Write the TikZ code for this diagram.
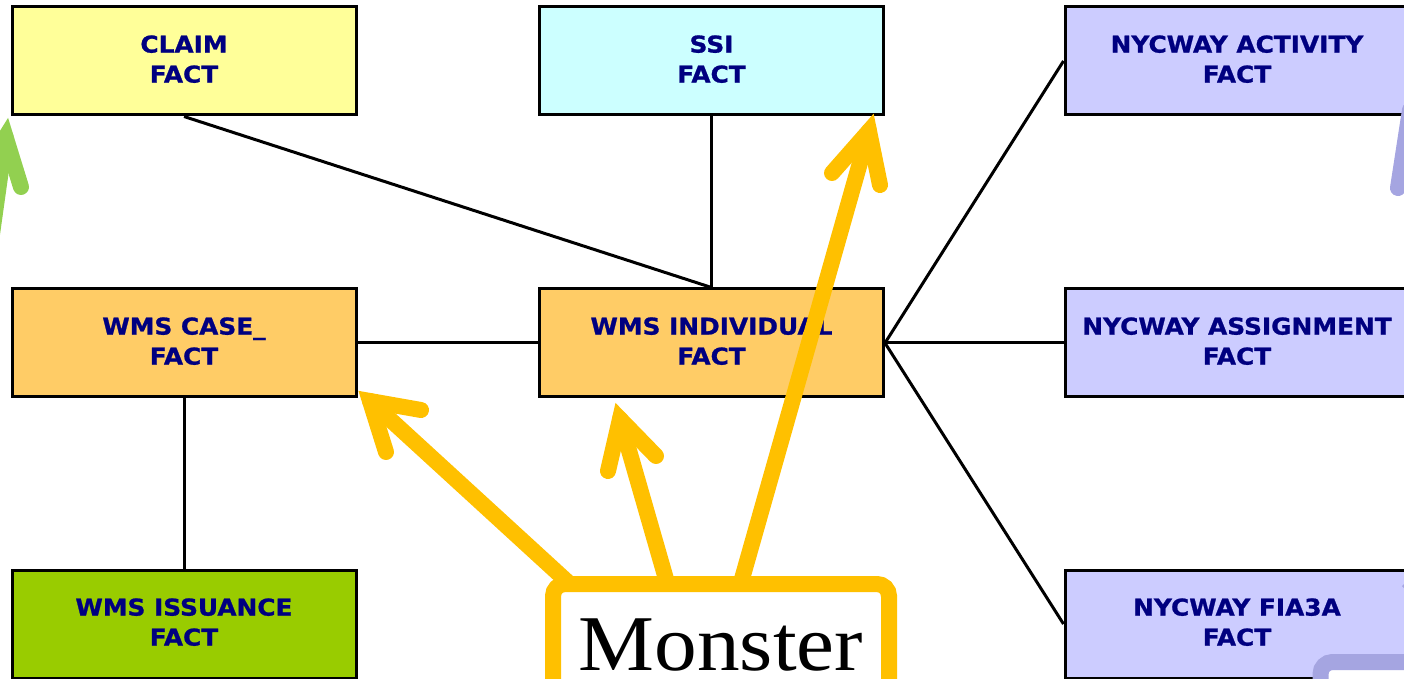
\documentclass[tikz,border=0pt]{standalone}
\usepackage{fontspec}
\newfontfamily\boxfont{DejaVu Sans}[BoldFeatures={FakeStretch=1.07,FakeBold=1}]
\newfontfamily\bigserif{Liberation Serif}
\definecolor{navytxt}{RGB}{0,0,128}
\definecolor{claimfill}{RGB}{255,255,153}
\definecolor{ssifill}{RGB}{204,255,255}
\definecolor{nycfill}{RGB}{204,204,255}
\definecolor{wmsfill}{RGB}{255,204,102}
\definecolor{issfill}{RGB}{153,204,0}
\definecolor{callout}{RGB}{255,192,0}
\definecolor{greenptr}{RGB}{146,208,80}
\definecolor{lilacptr}{RGB}{165,165,225}

\begin{document}
\begin{tikzpicture}[x=0.5pt,y=-0.5pt,
  fact/.style={draw=black, line width=1.5pt, minimum width=172pt, minimum height=54pt,
    inner sep=0pt, align=center, text=navytxt, text depth=2pt,
    font=\boxfont\bfseries\fontsize{11.6}{15}\selectfont},
  link/.style={draw=black, line width=1.5pt},
  shaft/.style={line width=8pt, line cap=round, draw=#1},
  barb/.style={line width=8pt, line cap=round, line join=miter, draw=#1},
  calloutbox/.style={draw=#1, line width=8pt, rounded corners=6pt, fill=white, inner sep=0pt},
]
\useasboundingbox (0,0) rectangle (1404,679);
\clip (0,0) rectangle (1404,679);

% fact tables
\node[fact, fill=claimfill] (claim) at (184,61)    {CLAIM\\FACT};
\node[fact, fill=ssifill]   (ssi)   at (711.5,61)  {SSI\\FACT};
\node[fact, fill=nycfill]   (act)   at (1237,61)   {NYCWAY ACTIVITY\\FACT};
\node[fact, fill=wmsfill]   (case)  at (184,343)   {WMS CASE\smash{\_}\\FACT};
\node[fact, fill=wmsfill]   (ind)   at (711.5,343) {WMS INDIVIDUAL\\FACT};
\node[fact, fill=nycfill]   (asg)   at (1237,343)  {NYCWAY ASSIGNMENT\\FACT};
\node[fact, fill=issfill]   (iss)   at (184,624)   {WMS ISSUANCE\\FACT};
\node[fact, fill=nycfill]   (fia)   at (1237,624)  {NYCWAY FIA3A\\FACT};

% joins
\draw[link] (claim.south) -- (ind.north);
\draw[link] (ssi.south) -- (ind.north);
\draw[link] (case.east) -- (ind.west);
\draw[link] (case.south) -- (iss.north);
\draw[link] (ind.east) -- (act.west);
\draw[link] (ind.east) -- (asg.west);
\draw[link] (ind.east) -- (fia.west);

% green pointer at the left edge
\coordinate (gTip) at (5.6,137);
\coordinate (gTail) at (-36,434);
\coordinate (gL) at (-23,183);
\coordinate (gR) at (21,187);
\draw[shaft=greenptr] (gTail) -- (gTip);
\draw[barb=greenptr] (gL) -- (gTip) -- (gR);

% lilac pointers at the right edge
\coordinate (lA) at (1398,188);
\coordinate (lB) at (1410,110);
\draw[shaft=lilacptr] (lA) -- (lB);
\coordinate (lC) at (1404,584);
\coordinate (lD) at (1420,600);
\draw[line width=3pt, draw=lilacptr] (lC) -- (lD);
\node[calloutbox=lilacptr, minimum width=89.5pt, minimum height=69pt] (lilacbox) at (1410,731) {};

% callout arrows
\coordinate (a1s) at (572,586);
\coordinate (a1t) at (370,401);
\coordinate (a1l) at (421,410);
\coordinate (a1r) at (386,452);
\coordinate (a2s) at (668,586);
\coordinate (a2t) at (620,419);
\coordinate (a2l) at (656,456);
\coordinate (a2r) at (608,471);
\coordinate (a3s) at (740,586);
\coordinate (a3t) at (869,131);
\coordinate (a3l) at (832,173);
\coordinate (a3r) at (880,185);
\foreach \k in {1,2,3} {
  \draw[shaft=callout] (a\k s) -- (a\k t);
  \draw[barb=callout] (a\k l) -- (a\k t) -- (a\k r);
}

% callout box
\node[calloutbox=callout, minimum width=168pt, minimum height=88pt] (mon) at (721,672) {};
\node[anchor=base, inner sep=0pt, font=\bigserif\fontsize{39.5}{40}\selectfont] (montext) at (721,670) {\scalebox{1.08}[1]{Monster}};
\end{tikzpicture}
\end{document}
